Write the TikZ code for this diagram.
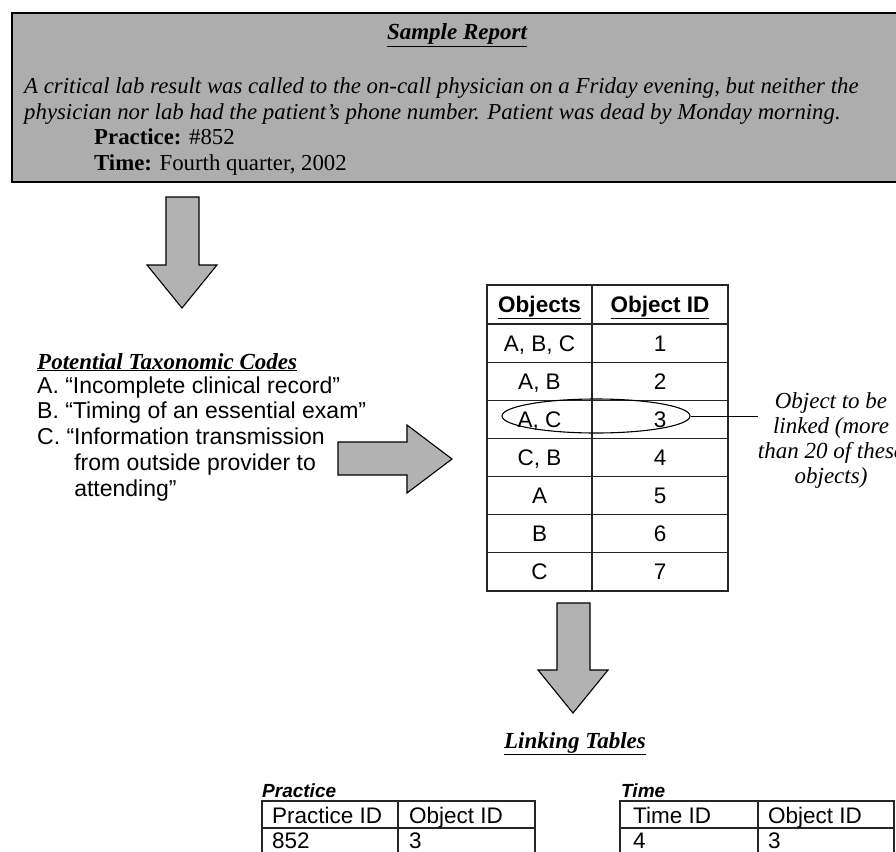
\documentclass[tikz,border=0pt]{standalone}
\usepackage{fontspec}
\setmainfont{Liberation Serif}
\setsansfont{Liberation Sans}
\usetikzlibrary{shapes.geometric, positioning, calc}

\begin{document}
\begin{tikzpicture}[
  x=1pt, y=-1pt,
  blockarrow/.style={draw=black, line width=1.1pt, fill=gray!60, line join=miter},
  grid/.style={draw=black!85, line width=1.1pt},
  serif/.style={font=\rmfamily\fontsize{22.8}{26}\selectfont, inner sep=0pt},
  heading/.style={font=\rmfamily\bfseries\itshape\fontsize{23}{26}\selectfont, inner sep=0pt},
  sans/.style={font=\sffamily\fontsize{22.5}{26}\selectfont, inner sep=0pt},
  label/.style={font=\sffamily\bfseries\itshape\fontsize{19}{22}\selectfont, inner sep=0pt},
  note/.style={font=\rmfamily\itshape\fontsize{23}{25}\selectfont, inner sep=0pt, align=center}
  ]
  \useasboundingbox (0,0) rectangle (896,851);
  \clip (0,0) rectangle (896,851);

  % sample report
  \draw[line width=2pt, fill=gray!64] (12,13) rectangle (910,182);
  \node[heading, anchor=base] (title) at (457,40) {\underline{Sample Report}};
  \node[serif, anchor=base west] (story1) at (24,93) {\itshape A critical lab result was called to the on-call physician on a Friday evening, but neither the};
  \node[serif, anchor=base west] (story2) at (24,119) {\itshape physician nor lab had the patient’s phone number. Patient was dead by Monday morning.};
  \node[serif, anchor=base west] (practice) at (94,144) {\textbf{Practice:} \#852};
  \node[serif, anchor=base west] (time) at (94,170) {\textbf{Time:} Fourth quarter, 2002};

  % arrow down to the codes
  \draw[blockarrow] (166,197) -- (199,197) -- (199,265) -- (217,265) -- (182,308)
    -- (147,265) -- (166,265) -- cycle;

  % taxonomic codes
  \node[heading, anchor=base west] (codes) at (37,369) {\underline{Potential Taxonomic Codes}};
  \foreach \txt [count=\i] in {A. “Incomplete clinical record”, B. “Timing of an essential exam”,
      C. “Information transmission, \phantom{C. “}from outside provider to, \phantom{C. “}attending”}
    \node[sans, font=\sffamily\fontsize{23}{26}\selectfont, anchor=base west] (code\i) at (37,{393+25.8*(\i-1)}) {\txt};

  % arrow right to the objects
  \draw[blockarrow] (338,442) -- (407,442) -- (407,425) -- (452,459) -- (407,493)
    -- (407,475) -- (338,475) -- cycle;

  % objects table
  \draw[grid] (487,285) rectangle (728,591);
  \draw[grid] (592,285) -- (592,591);
  \foreach \r in {0,...,6}
    \draw[grid] (487,{324+38.14*\r}) -- (728,{324+38.14*\r});
  \node[sans, anchor=base] (objhead) at (539.5,312) {\textbf{\underline{Objects}}};
  \node[sans, anchor=base] (idhead) at (660,312) {\textbf{\underline{Object ID}}};
  \foreach \obj/\id [count=\r] in {{A, B, C}/1, {A, B}/2, {A, C}/3, {C, B}/4, A/5, B/6, C/7} {
    \node[sans, anchor=base] (obj\r) at (539.5,{324+38.14*(\r-0.5)+8}) {\obj};
    \node[sans, anchor=base] (id\r) at (660,{324+38.14*(\r-0.5)+8}) {\id};
  }
  \node[draw, ellipse, line width=1.1pt, minimum width=188pt, minimum height=34pt, inner sep=0pt] (pick) at (596,416) {};
  \node[note] (linknote) at (831,440) {Object to be\\ linked (more\\ than 20 of these\\ objects)};
  \draw[line width=1pt] (pick.east) -- (pick.east -| linknote.west);

  % arrow down to the linking tables
  \draw[blockarrow] (557,603) -- (590,603) -- (590,670) -- (608,670) -- (573,713)
    -- (538,670) -- (557,670) -- cycle;

  % linking tables
  \node[heading, anchor=base] (linking) at (575,748) {\underline{Linking Tables}};
  \node[label, anchor=base west] (practab) at (262,797) {Practice};
  \draw[grid] (262,860) |- (535,801) -- (535,860);
  \draw[grid] (262,828) -- (535,828);
  \draw[grid] (398,801) -- (398,860);
  \node[sans, anchor=base west] (pracid) at (272,823) {Practice ID};
  \node[sans, anchor=base west] (pracobj) at (409,823) {Object ID};
  \node[sans, anchor=base west] (pracval) at (272,848) {852};
  \node[sans, anchor=base west] (pracobjval) at (409,848) {3};

  \node[label, anchor=base west] (timetab) at (621,797) {Time};
  \draw[grid] (620,860) |- (894,801) -- (894,860);
  \draw[grid] (620,828) -- (894,828);
  \draw[grid] (758,801) -- (758,860);
  \node[sans, anchor=base west] (timeid) at (633,823) {Time ID};
  \node[sans, anchor=base west] (timeobj) at (768,823) {Object ID};
  \node[sans, anchor=base west] (timeval) at (633,848) {4};
  \node[sans, anchor=base west] (timeobjval) at (768,848) {3};
\end{tikzpicture}
\end{document}
